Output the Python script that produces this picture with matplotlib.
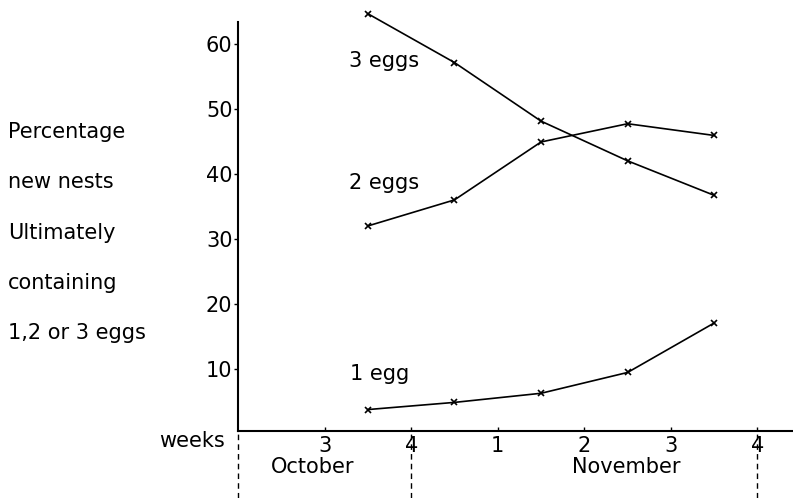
import matplotlib
matplotlib.use("Agg")
import matplotlib.pyplot as plt

plt.rcParams["font.family"] = ["DejaVu Sans"]

# weeks: 0 = origin (Oct wk 2), 1 = Oct 3, 2 = Oct 4, 3 = Nov 1 ... 6 = Nov 4
week_pos = [1.5, 2.5, 3.5, 4.5, 5.5]
three_eggs = [64.6, 57.1, 48.1, 42.0, 36.7]
two_eggs = [32.0, 36.0, 44.9, 47.7, 45.9]
one_egg = [3.8, 4.9, 6.3, 9.5, 17.1]

tick_pos = [1, 2, 3, 4, 5, 6]
tick_labels = ["3", "4", "1", "2", "3", "4"]
month_bounds = [0, 2, 6]
ylab_lines = ["Percentage", "new nests", "Ultimately", "containing", "1,2 or 3 eggs"]

fs = 15

fig = plt.figure(figsize=(7.93, 4.98), dpi=100)
ax = fig.add_axes([0.3001, 0.1351, 0.6999, 0.8217])

for series in (three_eggs, two_eggs, one_egg):
    ax.plot(week_pos, series, color="black", lw=1.2, marker="x", ms=5, mew=1.2,
            clip_on=False)

ax.set_xlim(0, 6.41)
ax.set_ylim(0.55, 63.4)

for side in ("top", "right"):
    ax.spines[side].set_visible(False)
for side in ("left", "bottom"):
    ax.spines[side].set_linewidth(1.5)

ax.set_xticks(tick_pos)
ax.set_xticklabels(tick_labels, fontsize=fs)
ax.tick_params(axis="x", direction="in", length=3, width=1, pad=4)
ax.set_yticks([10, 20, 30, 40, 50, 60])
ax.set_yticklabels(["10", "20", "30", "40", "50", "60"], fontsize=fs)
ax.tick_params(axis="y", direction="out", length=3, width=1, pad=1)

# series labels
ax.text(1.28, 57.3, "3 eggs", fontsize=fs, ha="left", va="center")
ax.text(1.28, 38.6, "2 eggs", fontsize=fs, ha="left", va="center")
ax.text(1.29, 9.3, "1 egg", fontsize=fs, ha="left", va="center")

# month divisions below the axis
for xb in month_bounds:
    ax.axvline(xb, ymin=-0.165, ymax=0, clip_on=False, color="black",
               lw=1, ls=(0, (4, 3)))
trans = ax.get_xaxis_transform()
ax.text(0.86, -0.089, "October", fontsize=fs, ha="center", va="center", transform=trans)
ax.text(4.48, -0.089, "November", fontsize=fs, ha="center", va="center", transform=trans)
ax.text(-0.15, -0.026, "weeks", fontsize=fs, ha="right", va="center", transform=trans)

# y axis description at left
ys = [0.7355, 0.635, 0.532, 0.432, 0.331]
for txt, yy in zip(ylab_lines, ys):
    fig.text(0.010, yy, txt, fontsize=fs, ha="left", va="center")

fig.savefig("out.png", dpi=100)
